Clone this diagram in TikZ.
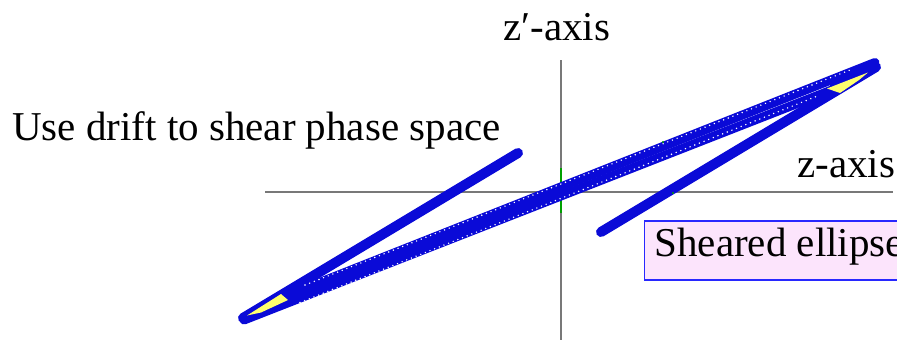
\documentclass[tikz,border=0pt]{standalone}
\usepackage{fontspec}
\setmainfont{LiberationSerif}[Extension=.ttf, UprightFont=*-Regular, BoldFont=*-Bold]
\definecolor{curveblue}{RGB}{10,10,215}
\definecolor{tipyellow}{RGB}{255,255,110}
\definecolor{boxpink}{RGB}{252,228,252}
\definecolor{boxblue}{RGB}{40,40,255}
\definecolor{axisgray}{RGB}{120,120,120}
\definecolor{markgreen}{RGB}{0,160,0}
\begin{document}
\begin{tikzpicture}[x=1pt,y=-1pt,
  lbl/.style={font=\rmfamily\fontsize{41}{41}\selectfont, inner sep=0pt, anchor=base west},
  axisline/.style={draw=axisgray, line width=1.2pt},
  armstroke/.style={draw=curveblue, line width=10pt, line cap=round, line join=round},
  bandstroke/.style={draw=curveblue, line width=9pt, line cap=round, line join=round},
  dotrow/.style={draw=white, line width=1.6pt, line cap=round, dash pattern=on 0pt off 5pt},
  boxstyle/.style={draw=boxblue, fill=boxpink, line width=1.2pt, anchor=base west,
    inner xsep=10pt, inner ysep=0pt, text height=35pt, text depth=24pt,
    font=\rmfamily\fontsize{41}{41}\selectfont}
]
\useasboundingbox (0,0) rectangle (897,346);
\clip (0,0) rectangle (897,346);
% axes
\coordinate (hl) at (265,192);
\coordinate (hr) at (893,192);
\coordinate (vt) at (561,60);
\coordinate (vb) at (561,340);
\draw[axisline] (hl) -- (hr);
\draw[axisline] (vt) -- (vb);
\draw[markgreen, line width=1.2pt] (561,168) -- (561,213);
% sheared ellipse: arms and band
\coordinate (laend) at (518,153);
\coordinate (lltip) at (243,318);
\coordinate (raend) at (601,232);
\coordinate (urtip) at (876,67);
\draw[armstroke] (laend) -- (lltip);
\draw[armstroke] (urtip) -- (raend);
\draw[bandstroke] (244,320) -- (833,89.5);
\draw[bandstroke] (285,296.2) -- (875,62.5);
% solid tip regions
\fill[curveblue] (lltip) -- (285,293) -- (290,304.6) -- cycle;
\fill[curveblue] (urtip) -- (833,92.4) -- (828,81) -- cycle;
% yellow interior at the tips
\fill[tipyellow] (247,315.5) -- (281,294) -- (288,300) -- (261,312.5) -- cycle;
\fill[tipyellow] (827,88.5) -- (868,72.5) -- (859,80) -- (840,93) -- cycle;
% texture of the band
\draw[dotrow] (300,302.5) -- (820,95);
\draw[dotrow] (305,285) -- (850,70);
% small green marks
\fill[markgreen] (663,142) circle (1.2pt);
\fill[markgreen] (673,193) circle (1.2pt);
% labels
\node[lbl] (use) at (12,140) {Use drift to shear phase space};
\node[lbl] (zp) at (503,40) {z′-axis};
\node[lbl] (z) at (797,177) {z-axis};
\node[boxstyle] (sheared) at (644,256) {Sheared ellipse};
\end{tikzpicture}
\end{document}
